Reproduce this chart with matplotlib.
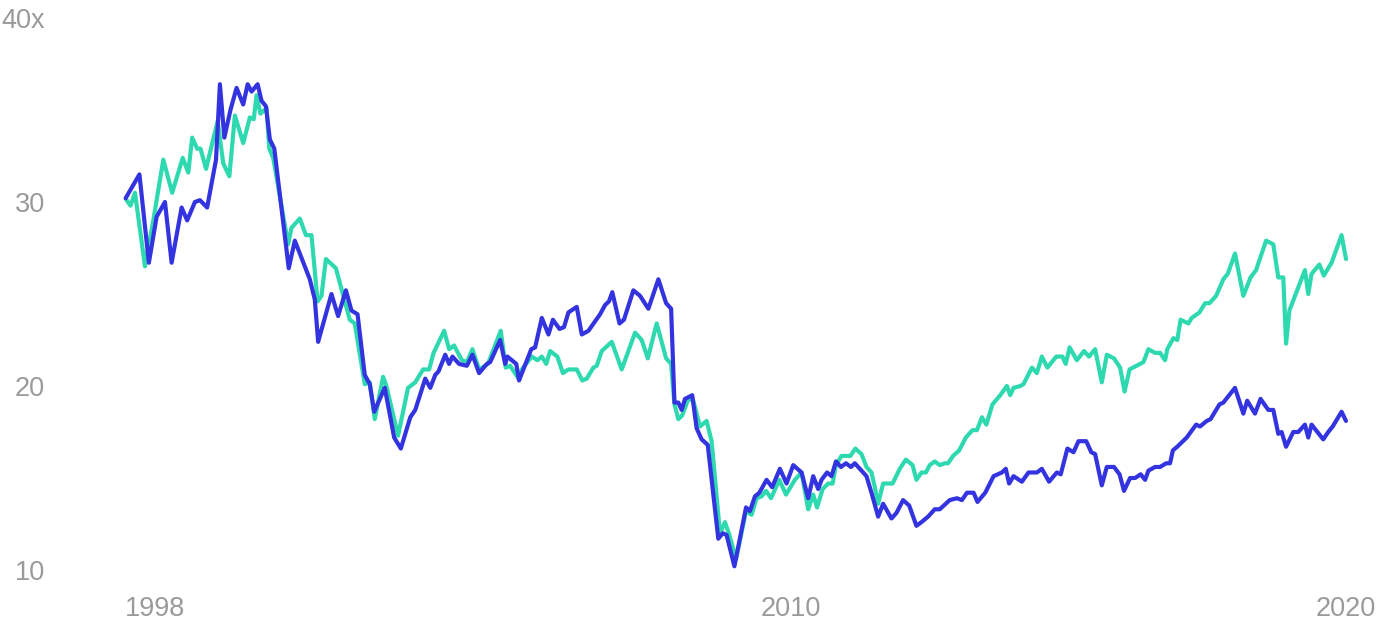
# P/E multiple chart: two series, 1998-2020

import matplotlib
matplotlib.use("Agg")
import matplotlib.pyplot as plt

teal = '#2ed9b0'
blue = '#3333e0'
grey = '#9a9a9a'

plt.rcParams['font.family'] = ['Liberation Sans', 'DejaVu Sans']

# teal series (decimal year, multiple)
teal_t = [1998.03, 1998.10, 1998.18, 1998.36, 1998.51, 1998.69, 1998.85, 1999.04, 1999.14, 1999.21,
          1999.30, 1999.36, 1999.46, 1999.67, 1999.77, 1999.88, 1999.98, 2000.13, 2000.25, 2000.32,
          2000.37, 2000.44, 2000.55, 2000.60, 2000.67, 2000.94, 2001.00, 2001.15, 2001.26, 2001.36,
          2001.47, 2001.54, 2001.62, 2001.80, 2002.05, 2002.14, 2002.32, 2002.41, 2002.50, 2002.65,
          2002.71, 2002.92, 2003.10, 2003.23, 2003.37, 2003.48, 2003.56, 2003.75, 2003.84, 2003.93,
          2004.07, 2004.16, 2004.26, 2004.38, 2004.54, 2004.77, 2004.86, 2004.94, 2005.09, 2005.15,
          2005.33, 2005.43, 2005.51, 2005.59, 2005.66, 2005.79, 2005.89, 2005.99, 2006.14, 2006.24,
          2006.32, 2006.44, 2006.50, 2006.59, 2006.77, 2006.95, 2007.19, 2007.31, 2007.42, 2007.58,
          2007.75, 2007.84, 2007.90, 2007.97, 2008.04, 2008.15, 2008.24, 2008.36, 2008.48, 2008.57,
          2008.72, 2008.81, 2008.89, 2009.01, 2009.19, 2009.29, 2009.38, 2009.47, 2009.55, 2009.64,
          2009.79, 2009.91, 2010.07, 2010.19, 2010.31, 2010.40, 2010.47, 2010.57, 2010.67, 2010.75,
          2010.81, 2010.91, 2011.00, 2011.07, 2011.16, 2011.27, 2011.36, 2011.45, 2011.51, 2011.57,
          2011.66, 2011.83, 2011.96, 2012.07, 2012.19, 2012.26, 2012.35, 2012.43, 2012.50, 2012.59,
          2012.68, 2012.77, 2012.83, 2012.92, 2013.03, 2013.15, 2013.27, 2013.35, 2013.44, 2013.52,
          2013.63, 2013.77, 2013.89, 2013.95, 2014.01, 2014.13, 2014.19, 2014.34, 2014.43, 2014.52,
          2014.62, 2014.78, 2014.89, 2014.95, 2015.02, 2015.15, 2015.28, 2015.37, 2015.48, 2015.60,
          2015.69, 2015.82, 2015.93, 2016.01, 2016.10, 2016.35, 2016.44, 2016.56, 2016.65, 2016.74,
          2016.78, 2016.89, 2016.96, 2017.02, 2017.16, 2017.22, 2017.36, 2017.46, 2017.54, 2017.66,
          2017.79, 2017.87, 2018.00, 2018.15, 2018.28, 2018.38, 2018.56, 2018.69, 2018.78, 2018.87,
          2018.92, 2018.98, 2019.26, 2019.32, 2019.38, 2019.52, 2019.60, 2019.74, 2019.92, 2020.00]
teal_v = [30.1, 29.8, 30.5, 26.5, 29.0, 32.3, 30.5, 32.4, 31.6, 33.5,
          32.9, 32.9, 31.8, 34.4, 32.1, 31.4, 34.7, 33.2, 34.6, 34.5,
          35.8, 34.8, 35.1, 32.9, 32.4, 27.7, 28.6, 29.1, 28.2, 28.2,
          24.6, 24.9, 26.9, 26.4, 23.6, 23.4, 20.1, 20.2, 18.2, 20.5,
          20.0, 17.3, 19.9, 20.2, 20.9, 20.9, 21.8, 23.0, 22.0, 22.2,
          21.4, 21.3, 22.0, 20.9, 21.2, 23.0, 21.0, 21.1, 20.4, 20.9,
          21.6, 21.4, 21.6, 21.2, 21.9, 21.6, 20.7, 20.9, 20.9, 20.3,
          20.4, 21.0, 21.1, 21.9, 22.4, 20.9, 22.9, 22.5, 21.5, 23.4,
          21.5, 21.2, 19.0, 18.2, 18.4, 19.3, 19.2, 17.8, 18.1, 17.0,
          12.0, 12.6, 11.9, 10.6, 13.2, 13.0, 13.9, 14.0, 14.3, 13.9,
          14.9, 14.1, 14.9, 15.3, 13.3, 14.1, 13.4, 14.4, 14.7, 14.7,
          15.7, 16.2, 16.2, 16.2, 16.6, 16.3, 15.6, 15.3, 14.5, 13.6,
          14.7, 14.7, 15.5, 16.0, 15.7, 14.9, 15.3, 15.3, 15.7, 15.9,
          15.7, 15.8, 15.8, 16.2, 16.5, 17.2, 17.6, 17.6, 18.3, 17.9,
          19.0, 19.5, 20.0, 19.5, 19.9, 20.0, 20.1, 21.0, 20.7, 21.6,
          21.0, 21.6, 21.6, 21.2, 22.1, 21.4, 21.9, 21.6, 22.0, 20.2,
          21.7, 21.5, 21.0, 19.7, 20.9, 21.3, 22.0, 21.8, 21.8, 21.4,
          22.0, 22.6, 22.5, 23.6, 23.4, 23.7, 24.0, 24.5, 24.5, 24.9,
          25.8, 26.1, 27.2, 24.9, 25.9, 26.3, 27.9, 27.7, 25.9, 25.9,
          22.3, 24.1, 26.3, 25.0, 26.1, 26.6, 26.0, 26.7, 28.2, 26.9]

# blue series (decimal year, multiple)
blue_t = [1998.01, 1998.26, 1998.43, 1998.57, 1998.72, 1998.84, 1999.02, 1999.12, 1999.26, 1999.35,
          1999.48, 1999.64, 1999.71, 1999.79, 1999.90, 2000.01, 2000.13, 2000.21, 2000.28, 2000.39,
          2000.46, 2000.54, 2000.61, 2000.69, 2000.95, 2001.06, 2001.33, 2001.42, 2001.48, 2001.72,
          2001.84, 2001.98, 2002.08, 2002.19, 2002.32, 2002.41, 2002.49, 2002.68, 2002.85, 2002.97,
          2003.14, 2003.23, 2003.41, 2003.50, 2003.59, 2003.65, 2003.77, 2003.84, 2003.90, 2004.02,
          2004.16, 2004.26, 2004.38, 2004.52, 2004.58, 2004.76, 2004.85, 2004.89, 2005.05, 2005.10,
          2005.32, 2005.39, 2005.51, 2005.63, 2005.71, 2005.83, 2005.91, 2005.99, 2006.14, 2006.23,
          2006.35, 2006.56, 2006.65, 2006.72, 2006.78, 2006.91, 2006.99, 2007.16, 2007.28, 2007.43,
          2007.61, 2007.75, 2007.84, 2007.90, 2007.97, 2008.03, 2008.09, 2008.22, 2008.30, 2008.39,
          2008.50, 2008.69, 2008.77, 2008.84, 2008.98, 2009.19, 2009.26, 2009.35, 2009.43, 2009.56,
          2009.66, 2009.80, 2009.92, 2010.04, 2010.19, 2010.31, 2010.40, 2010.49, 2010.55, 2010.65,
          2010.73, 2010.81, 2010.90, 2010.99, 2011.08, 2011.15, 2011.27, 2011.36, 2011.45, 2011.57,
          2011.66, 2011.81, 2011.90, 2012.02, 2012.13, 2012.26, 2012.35, 2012.47, 2012.59, 2012.68,
          2012.86, 2012.99, 2013.08, 2013.17, 2013.29, 2013.36, 2013.50, 2013.65, 2013.80, 2013.87,
          2013.93, 2014.01, 2014.16, 2014.28, 2014.43, 2014.52, 2014.65, 2014.79, 2014.86, 2014.98,
          2015.09, 2015.18, 2015.32, 2015.41, 2015.48, 2015.60, 2015.69, 2015.82, 2015.92, 2016.00,
          2016.11, 2016.20, 2016.30, 2016.38, 2016.44, 2016.56, 2016.65, 2016.76, 2016.83, 2016.88,
          2016.96, 2017.13, 2017.30, 2017.37, 2017.49, 2017.56, 2017.72, 2017.79, 2018.00, 2018.15,
          2018.22, 2018.36, 2018.46, 2018.60, 2018.69, 2018.78, 2018.84, 2018.92, 2019.05, 2019.14,
          2019.26, 2019.32, 2019.38, 2019.59, 2019.68, 2019.76, 2019.92, 2020.00]
blue_v = [30.2, 31.5, 26.7, 29.2, 30.0, 26.7, 29.7, 29.0, 30.0, 30.1,
          29.7, 32.3, 36.4, 33.5, 35.0, 36.2, 35.3, 36.4, 36.0, 36.4,
          35.5, 35.2, 33.4, 32.9, 26.4, 27.9, 25.8, 24.7, 22.4, 25.0,
          23.8, 25.2, 24.1, 23.9, 20.6, 20.1, 18.6, 19.9, 17.2, 16.6,
          18.3, 18.7, 20.4, 19.9, 20.6, 20.8, 21.7, 21.2, 21.6, 21.2,
          21.1, 21.7, 20.7, 21.2, 21.3, 22.5, 21.2, 21.6, 21.2, 20.3,
          22.0, 22.1, 23.7, 22.8, 23.6, 23.1, 23.2, 24.0, 24.3, 22.8,
          23.0, 23.9, 24.4, 24.6, 25.1, 23.4, 23.6, 25.2, 24.9, 24.2,
          25.8, 24.5, 24.2, 19.1, 19.1, 18.7, 19.3, 19.5, 17.7, 17.1,
          16.8, 11.7, 12.0, 11.9, 10.2, 13.4, 13.2, 14.0, 14.2, 14.9,
          14.5, 15.5, 14.7, 15.7, 15.3, 13.9, 15.1, 14.4, 14.9, 15.3,
          15.1, 15.9, 15.6, 15.8, 15.6, 15.8, 15.4, 15.1, 14.2, 12.9,
          13.6, 12.8, 13.1, 13.8, 13.5, 12.4, 12.6, 12.9, 13.3, 13.3,
          13.8, 13.9, 13.8, 14.2, 14.2, 13.7, 14.2, 15.1, 15.3, 15.5,
          14.7, 15.1, 14.8, 15.3, 15.3, 15.5, 14.8, 15.3, 15.2, 16.6,
          16.4, 17.0, 17.0, 16.4, 16.3, 14.6, 15.6, 15.6, 15.2, 14.3,
          15.0, 15.0, 15.2, 14.9, 15.4, 15.6, 15.6, 15.8, 15.8, 16.5,
          16.7, 17.2, 17.9, 17.8, 18.1, 18.2, 19.0, 19.1, 19.9, 18.5,
          19.2, 18.5, 19.3, 18.7, 18.7, 17.4, 17.5, 16.7, 17.5, 17.5,
          17.9, 17.2, 17.9, 17.1, 17.5, 17.8, 18.6, 18.1]

x_ticks = [1998, 2010, 2020]
x_labels = ['1998', '2010', '2020']
y_ticks = [10, 20, 30, 40]
y_labels = ['10', '20', '30', '40x']

fig = plt.figure(figsize=(14, 6.2), dpi=100)
fig.set_facecolor('white')
ax = fig.add_axes([125/1400, 1 - 570/620, 1221/1400, 552/620])

ax.plot(teal_t, teal_v, color=teal, lw=3, solid_joinstyle='round',
        solid_capstyle='round', clip_on=False)
ax.plot(blue_t, blue_v, color=blue, lw=3, solid_joinstyle='round',
        solid_capstyle='round', clip_on=False)

ax.set_xlim(1998, 2020)
ax.set_ylim(10, 40)
for s in ax.spines.values():
    s.set_visible(False)

ax.set_xticks(x_ticks)
ax.set_xticklabels(x_labels)
ax.set_yticks(y_ticks)
ax.set_yticklabels(y_labels)
ax.tick_params(axis='both', length=0, labelsize=19.5, colors=grey)
ax.tick_params(axis='y', pad=57.6)
ax.tick_params(axis='x', pad=19)
ax.get_xticklabels()[0].set_ha('left')

plt.savefig('out.png', dpi=100)
